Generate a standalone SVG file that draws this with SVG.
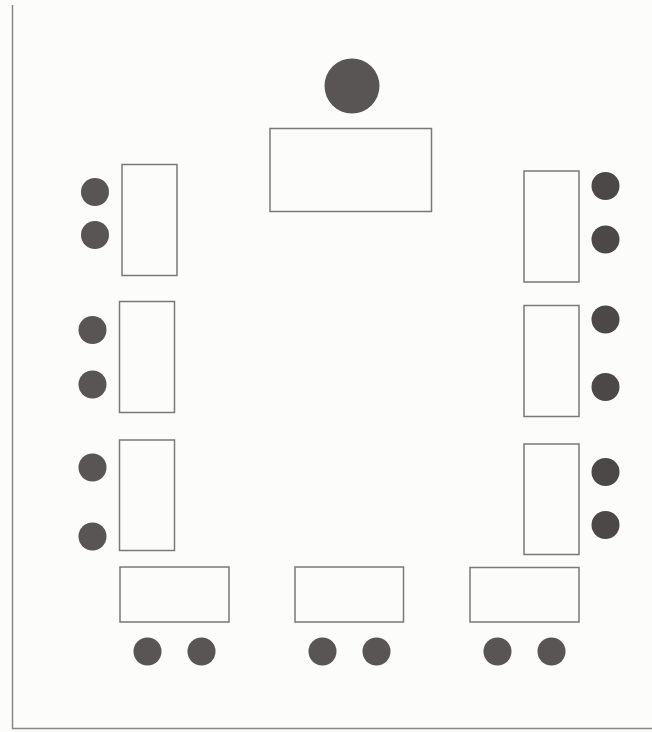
<svg xmlns="http://www.w3.org/2000/svg" width="652" height="732" viewBox="0 0 652 732">
<style>
.tbl{fill:none;stroke:#7a7878;stroke-width:1.5}
.seat{fill:#5a5555}
.seatR{fill:#4d4848}
.border{stroke:#8a8888;stroke-width:1.5;fill:none}
</style>
<rect x="0" y="0" width="652" height="732" fill="#fcfcfa"/>
<path class="border" d="M12.5,5 V728.5 H652"/>
<g id="head"><circle class="seat" cx="352" cy="86" r="27.5" fill="#5e5959"/><rect class="tbl" x="270" y="128.5" width="161.5" height="83"/></g>
<g id="left1"><rect class="tbl" x="122" y="164.5" width="55" height="111"/><circle class="seat" cx="95" cy="192" r="14"/><circle class="seat" cx="95" cy="235" r="14"/></g>
<g id="left2"><rect class="tbl" x="119.5" y="301.5" width="55" height="111"/><circle class="seat" cx="92.5" cy="330" r="14"/><circle class="seat" cx="92.5" cy="384.5" r="14"/></g>
<g id="left3"><rect class="tbl" x="119.5" y="440" width="55" height="110.5"/><circle class="seat" cx="92.5" cy="467.5" r="14"/><circle class="seat" cx="92.5" cy="536.5" r="14"/></g>
<g id="right1"><rect class="tbl" x="524" y="171" width="55" height="111"/><circle class="seatR" cx="605.5" cy="186" r="14"/><circle class="seatR" cx="605.5" cy="239.5" r="14"/></g>
<g id="right2"><rect class="tbl" x="524" y="305.5" width="55" height="111"/><circle class="seatR" cx="605.5" cy="319.5" r="14"/><circle class="seatR" cx="605.5" cy="387" r="14"/></g>
<g id="right3"><rect class="tbl" x="524" y="444" width="55" height="110.5"/><circle class="seatR" cx="605.5" cy="472" r="14"/><circle class="seatR" cx="605.5" cy="525" r="14"/></g>
<g id="bottom1"><rect class="tbl" x="120" y="567" width="109" height="55"/><circle class="seat" cx="147.5" cy="651.5" r="14"/><circle class="seat" cx="201.5" cy="651.5" r="14"/></g>
<g id="bottom2"><rect class="tbl" x="295" y="567" width="108.5" height="55"/><circle class="seat" cx="322.5" cy="651.5" r="14"/><circle class="seat" cx="376.5" cy="651.5" r="14"/></g>
<g id="bottom3"><rect class="tbl" x="470" y="567.5" width="109" height="54.5"/><circle class="seat" cx="497.5" cy="651.5" r="14"/><circle class="seat" cx="551.5" cy="651.5" r="14"/></g>
<g id="connectors"/>
</svg>
